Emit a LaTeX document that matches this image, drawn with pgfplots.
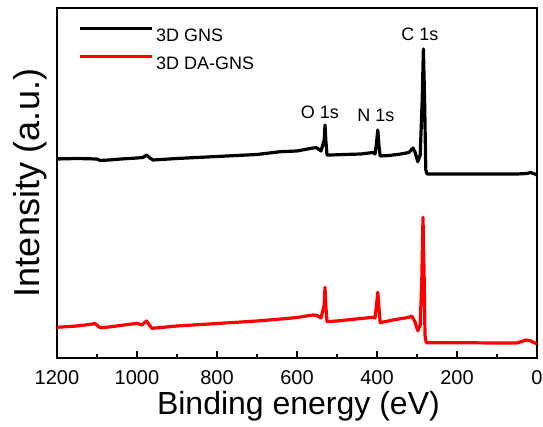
\documentclass[border=0pt]{standalone}
\usepackage{fontspec}
\setmainfont{Liberation Sans}
\usepackage{pgfplots}
\pgfplotsset{compat=1.18}
\begin{document}
\begin{tikzpicture}
\begin{axis}[
  at={(0pt,0pt)}, anchor=south west,
  scale only axis, width=480pt, height=350pt,
  x dir=reverse, xmin=0, xmax=1200, ymin=0, ymax=350,
  xtick={0,200,400,600,800,1000,1200},
  minor x tick num=1,
  ytick={200}, yticklabels={},
  tick pos=left, tick align=inside,
  major tick length=7pt, minor tick length=3.5pt,
  every tick/.style={black, line width=1.2pt},
  axis line style={line width=1.4pt},
  /pgf/number format/assume math mode=true,
  /pgf/number format/1000 sep={},
  xticklabel style={font=\fontsize{20}{24}\selectfont, inner sep=0pt, anchor=north, yshift=-12pt},
  xlabel={Binding energy (eV)},
  ylabel={Intensity (a.u.)},
  xlabel style={font=\fontsize{32}{38}\selectfont, inner sep=0pt, at={(axis description cs:0.503,-0.094)}, anchor=north},
  ylabel style={font=\fontsize{36}{42}\selectfont, inner sep=0pt, at={(axis description cs:-0.021,0.5)}, anchor=south},
  legend style={draw=none, fill=none, inner sep=0pt, outer sep=0pt,
    at={(axis description cs:0.044,0.947)}, anchor=north west,
    font=\fontsize{18}{22}\selectfont, row sep=14pt, column sep=3pt,
    nodes={inner sep=0pt, text height=13pt, text depth=0pt}},
  legend cell align=left,
  legend image code/.code={\draw[#1, line width=3pt] (0pt,6.5pt) -- (72pt,6.5pt);},
]
\addplot[black, line width=3.2pt, line join=round] coordinates {
(1200,199) (1150,199.5) (1100,199) (1092,197.5) (1070,198) (1040,199) (1000,200)
(985,200.5) (976,203) (968,200) (960,198) (940,198.5) (900,199.5) (800,201.5)
(700,203.5) (642,206.3) (600,207) (560,210) (551,210.3) (540,207) (532,218) (530,233)
(528,218) (525,203) (515,203) (480,203.5) (440,204) (410,205.5) (405,204) (402,212)
(398,228) (395,212) (392,202) (370,202.5) (340,204) (320,205.5) (310,210) (305,206)
(298,196.3) (292,203) (287,258) (284,309) (281,258) (278,188) (275,184) (250,184)
(200,184) (150,184) (100,184) (50,184) (25,184.5) (17,185.5) (8,184.5) (0,183)
};
\addlegendentry{3D GNS}
\addplot[red, line width=3.2pt, line join=round] coordinates {
(1200,30.7) (1150,32) (1110,34) (1105,34.5) (1092,30.3) (1070,31) (1000,34.7)
(988,33) (976,37) (963,29.7) (940,30.5) (900,32) (800,34.5) (700,37) (640,39)
(600,40.5) (560,43) (550,42.5) (540,40) (532,53) (530,70.7) (528,53) (525,36.3)
(500,37) (440,39.5) (410,40.7) (405,40) (402,50) (398,65.7) (395,50) (392,35.3)
(360,38) (320,40.7) (313,42) (305,36) (298,27.3) (292,33) (288,78) (285,140.7)
(282,78) (280,23) (277,15.3) (250,15.3) (200,15.3) (100,15) (50,15) (27,18)
(15,17) (8,15.5) (0,14)
};
\addlegendentry{3D DA-GNS}
\node[font=\fontsize{18}{22}\selectfont] at (axis cs:292.5,324) {C 1s};
\node[font=\fontsize{18}{22}\selectfont] at (axis cs:542.5,246) {O 1s};
\node[font=\fontsize{18}{22}\selectfont] at (axis cs:402.5,243) {N 1s};
\end{axis}
\pgfresetboundingbox
\path (-57pt,-69pt) rectangle (486pt,358pt);
\end{tikzpicture}
\end{document}
